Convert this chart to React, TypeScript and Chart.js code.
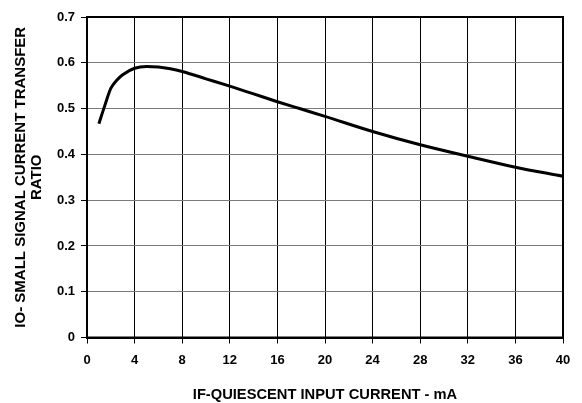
import React, { useEffect, useRef } from "react";
import { Chart, registerables } from "chart.js";

Chart.register(...registerables);

const currentMA = [1, 1.5, 2, 2.5, 3, 4, 5, 6, 7, 8, 10, 12, 14, 16, 18, 20, 24, 28, 32, 36, 40];
const transferRatio = [0.467, 0.507, 0.544, 0.562, 0.574, 0.588, 0.592, 0.591, 0.587, 0.581, 0.565, 0.549, 0.532, 0.515, 0.499, 0.483, 0.45, 0.421, 0.396, 0.372, 0.352];
const xTickLabels = ["0", "4", "8", "12", "16", "20", "24", "28", "32", "36", "40"];
const yTickLabels = ["0", "0.1", "0.2", "0.3", "0.4", "0.5", "0.6", "0.7"];
const xTitle = "IF-QUIESCENT INPUT CURRENT - mA";
const yTitle = ["IO- SMALL SIGNAL CURRENT TRANSFER", "RATIO"];

const FONT = "'Liberation Sans', Arial, Helvetica, sans-serif";

export default function App() {
  const ref = useRef<HTMLCanvasElement | null>(null);

  useEffect(() => {
    if (!ref.current) return;
    const frame = {
      id: "frame",
      afterDraw(chart: any) {
        const { ctx, chartArea } = chart;
        ctx.save();
        ctx.strokeStyle = "#000";
        ctx.lineWidth = 2;
        ctx.strokeRect(chartArea.left, chartArea.top, chartArea.right - chartArea.left, chartArea.bottom - chartArea.top);
        ctx.restore();
      },
    };
    const chart = new Chart(ref.current, {
      type: "line",
      data: {
        datasets: [
          {
            data: currentMA.map((x, i) => ({ x, y: transferRatio[i] })),
            borderColor: "#000",
            borderWidth: 3,
            pointRadius: 0,
            cubicInterpolationMode: "monotone",
            fill: false,
          },
        ],
      },
      plugins: [frame],
      options: {
        animation: false,
        responsive: false,
        maintainAspectRatio: false,
        layout: { padding: { top: 17, right: 19, left: 0, bottom: 0 } },
        plugins: {
          legend: { display: false },
          tooltip: { enabled: false },
          title: { display: false },
        },
        scales: {
          x: {
            type: "linear",
            min: 0,
            max: 40,
            afterFit: (s: any) => {
              s.height = 65.5;
            },
            afterBuildTicks: (s: any) => {
              s.ticks = xTickLabels.map((l) => ({ value: Number(l) }));
            },
            ticks: {
              color: "#000",
              padding: 9.4,
              maxRotation: 0,
              autoSkip: false,
              font: { family: FONT, size: 13, weight: "bold", lineHeight: 1.2 },
              callback: (_v: any, i: number) => xTickLabels[i],
            },
            grid: { color: "#000", lineWidth: 1, tickLength: 6, tickColor: "#000", drawTicks: true },
            border: { display: true, color: "#000", width: 2 },
            title: {
              display: true,
              text: xTitle,
              color: "#000",
              font: { family: FONT, size: 14.7, weight: "bold", lineHeight: 1.1 },
              padding: { top: 0, bottom: 0.2 },
            },
          },
          y: {
            type: "linear",
            min: 0,
            max: 0.7,
            afterFit: (s: any) => {
              s.width = 87;
            },
            afterBuildTicks: (s: any) => {
              s.ticks = yTickLabels.map((l) => ({ value: Number(l) }));
            },
            ticks: {
              color: "#000",
              padding: 6,
              autoSkip: false,
              font: { family: FONT, size: 13, weight: "bold" },
              callback: (_v: any, i: number) => yTickLabels[i],
            },
            grid: { color: "#7a7a7a", lineWidth: 1, tickLength: 6, tickColor: "#000", drawTicks: true },
            border: { display: true, color: "#000", width: 2 },
            title: {
              display: true,
              text: yTitle,
              color: "#000",
              font: { family: FONT, size: 15, weight: "bold", lineHeight: 1.09 },
              padding: { top: 12.5, bottom: 0 },
            },
          },
        },
      },
    });
    return () => chart.destroy();
  }, []);

  return (
    <div style={{ position: "absolute", left: 0, top: 0, width: 582, height: 403, background: "#fff" }}>
      <canvas ref={ref} width={582} height={403} style={{ display: "block", width: 582, height: 403 }} />
    </div>
  );
}
